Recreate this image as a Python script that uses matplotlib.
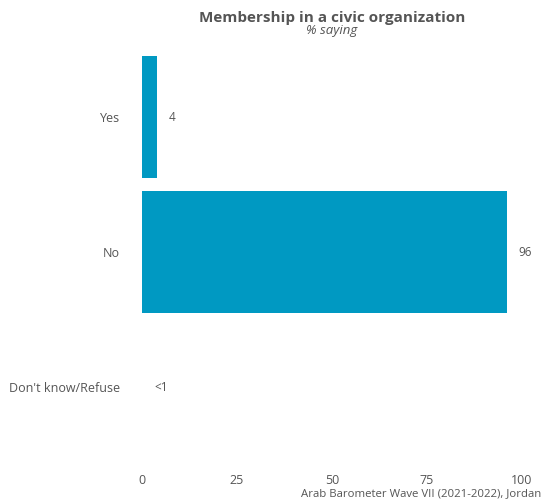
import matplotlib
matplotlib.use("Agg")
import matplotlib.pyplot as plt

categories = ["Yes", "No", "Don't know/Refuse"]
values = [4, 96, 0.3]
value_labels = ["4", "96", "<1"]
xticks = [0, 25, 50, 75, 100]

plt.rcParams["font.family"] = ["Open Sans", "DejaVu Sans"]
text_col = "#555555"
bar_col = "#0099C2"

fig = plt.figure(figsize=(5.43, 5.03), dpi=100)
ax = fig.add_axes([0.2615, 0.0964, 0.6998, 0.805])

ypos = list(range(len(categories)))
ax.barh(ypos, [v if v >= 1 else 0 for v in values], height=0.9, color=bar_col)
for y, v, lab in zip(ypos, values, value_labels):
    ax.text(v + 3, y, lab, va="center", ha="left", fontsize=8.5, color=text_col)

ax.set_xlim(0, 100)
ax.set_ylim(2.5, -0.5)
ax.set_yticks(ypos)
ax.set_yticklabels(categories)
ax.set_xticks(xticks)
ax.tick_params(length=0, labelsize=9, labelcolor=text_col)
ax.tick_params(axis="y", pad=16)
ax.tick_params(axis="x", pad=14)
for s in ax.spines.values():
    s.set_visible(False)

fig.text(0.611, 0.964, "Membership in a civic organization", ha="center", va="center",
         fontsize=11, fontweight="bold", color=text_col)
fig.text(0.611, 0.939, "% saying", ha="center", va="center",
         fontsize=9.5, style="italic", color=text_col)
fig.text(0.996, 0.018, "Arab Barometer Wave VII (2021-2022), Jordan", ha="right", va="center",
         fontsize=8.2, color=text_col)

fig.savefig("out.png", dpi=100)
